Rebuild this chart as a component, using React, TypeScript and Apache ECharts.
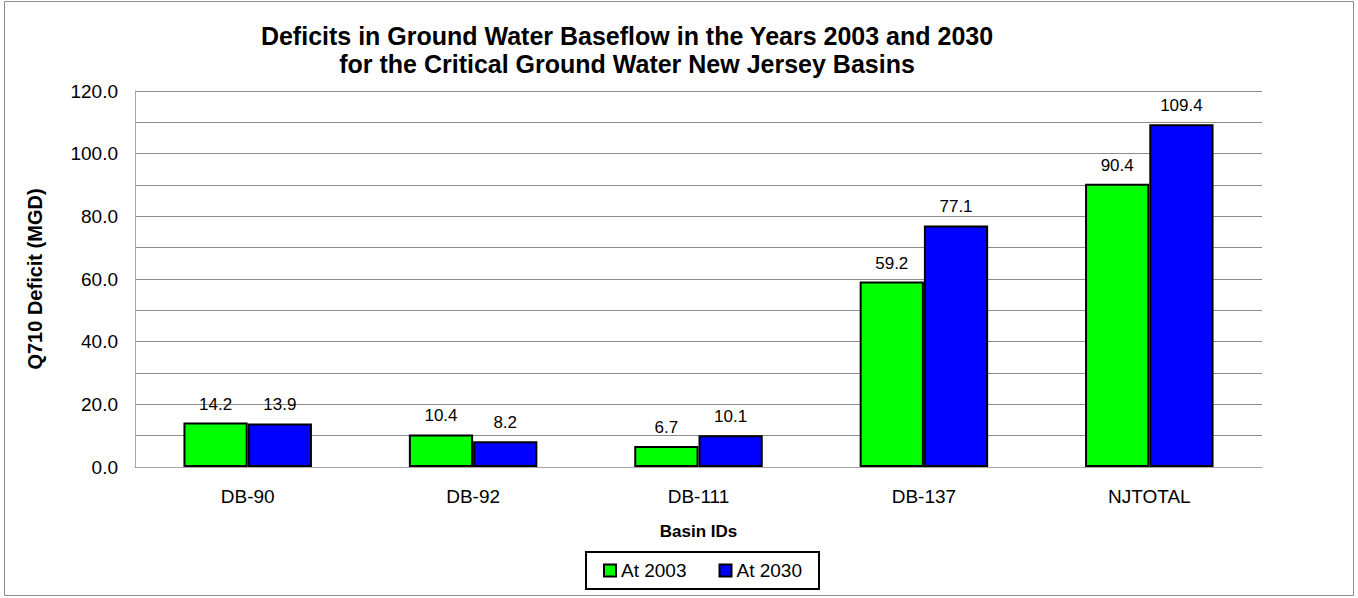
import React, { useEffect, useRef } from "react";
import * as echarts from "echarts";

const categories = ["DB-90", "DB-92", "DB-111", "DB-137", "NJTOTAL"];
const values2003 = [14.2, 10.4, 6.7, 59.2, 90.4];
const values2030 = [13.9, 8.2, 10.1, 77.1, 109.4];
const seriesNames = ["At 2003", "At 2030"];

const FONT = "'Liberation Sans', Arial, sans-serif";

export default function App() {
  const ref = useRef<HTMLDivElement>(null);
  useEffect(() => {
    if (!ref.current) return;
    const chart = echarts.init(ref.current, null, { renderer: "svg" });
    const label = {
      show: true,
      position: "top",
      distance: 10,
      fontSize: 17,
      color: "#000",
      fontFamily: FONT,
      formatter: (p: any) => Number(p.value).toFixed(1),
    };
    chart.setOption({
      animation: false,
      backgroundColor: "#fff",
      textStyle: { fontFamily: FONT },
      graphic: [
        {
          type: "rect",
          shape: { x: 4.5, y: 1.5, width: 1349, height: 594 },
          style: { fill: "none", stroke: "#8c8c8c", lineWidth: 1 },
          silent: true,
        },
      ],
      title: {
        text: "Deficits in Ground Water Baseflow in the Years 2003 and 2030\nfor the Critical Ground Water New Jersey Basins",
        left: 627,
        top: 22,
        padding: 0,
        textAlign: "center",
        textStyle: {
          fontFamily: FONT,
          fontSize: 25,
          fontWeight: "bold",
          color: "#000",
          lineHeight: 28,
        },
      },
      legend: {
        data: seriesNames,
        left: 586,
        top: 552,
        orient: "horizontal",
        borderColor: "#000",
        borderWidth: 2,
        padding: [9, 17, 9, 17],
        itemGap: 32,
        itemWidth: 12,
        itemHeight: 12,
        icon: "rect",
        textStyle: { fontSize: 19, color: "#000", fontFamily: FONT },
      },
      grid: { left: 135, right: 96, top: 91, bottom: 131, containLabel: false },
      xAxis: {
        type: "category",
        data: categories,
        name: "Basin IDs",
        nameLocation: "middle",
        nameGap: 56,
        nameTextStyle: { fontSize: 17, fontWeight: "bold", color: "#000", fontFamily: FONT },
        axisLine: { lineStyle: { color: "#a6a6a6", width: 1 } },
        axisTick: { show: false },
        axisLabel: { fontSize: 19, color: "#000", margin: 20, fontFamily: FONT },
      },
      yAxis: {
        type: "value",
        min: 0,
        max: 120,
        interval: 20,
        name: "Q710 Deficit (MGD)",
        nameLocation: "middle",
        nameGap: 90,
        nameRotate: 90,
        nameTextStyle: { fontSize: 20, fontWeight: "bold", color: "#000", fontFamily: FONT },
        axisLine: { show: true, lineStyle: { color: "#a6a6a6", width: 1 } },
        axisTick: { show: false },
        axisLabel: {
          fontSize: 19,
          color: "#000",
          margin: 17,
          fontFamily: FONT,
          formatter: (v: number) => v.toFixed(1),
        },
        splitLine: { show: true, lineStyle: { color: "#8c8c8c", width: 1 } },
        minorTick: { show: false, splitNumber: 2 },
        minorSplitLine: { show: true, lineStyle: { color: "#8c8c8c", width: 1 } },
      },
      series: [
        {
          name: seriesNames[0],
          type: "bar",
          data: values2003,
          barGap: "0%",
          barCategoryGap: "43%",
          itemStyle: { color: "#00ff00", borderColor: "#000", borderWidth: 2 },
          label,
        },
        {
          name: seriesNames[1],
          type: "bar",
          data: values2030,
          barGap: "0%",
          barCategoryGap: "43%",
          itemStyle: { color: "#0000ff", borderColor: "#000", borderWidth: 2 },
          label,
        },
      ],
    });
    return () => chart.dispose();
  }, []);
  return (
    <div
      ref={ref}
      style={{ position: "absolute", left: 0, top: 0, width: 1358, height: 598 }}
    />
  );
}
